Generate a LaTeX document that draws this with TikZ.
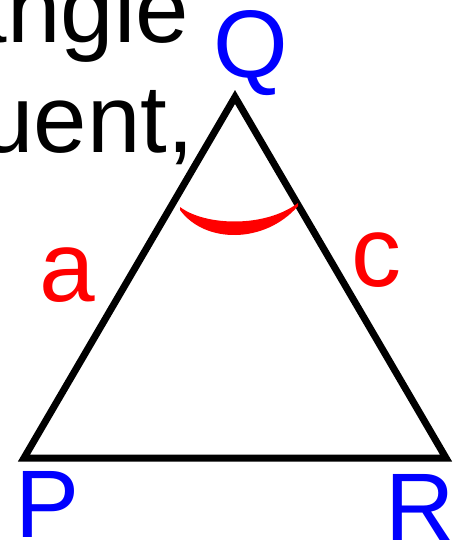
\documentclass[tikz,border=0pt]{standalone}
\usepackage{fontspec}
\setmainfont{Liberation Sans}
\usetikzlibrary{positioning}

\begin{document}
\begin{tikzpicture}[x=1pt, y=-1pt,
    vtx/.style={font=\fontsize{96}{110}\selectfont, text=blue, inner sep=0pt, anchor=base west},
    sidelbl/.style={font=\fontsize{100}{110}\selectfont, text=red, inner sep=0pt, anchor=base west},
    txt/.style={font=\fontsize{96}{110}\selectfont, inner sep=0pt, anchor=base east},
    sideline/.style={line width=7pt, line join=miter}
  ]
    \useasboundingbox (0,0) rectangle (462,545);
    \clip (0,0) rectangle (462,545);
    % text of the paragraph, cut off
    \node[txt] (t1) at (189,43) {angle};
    \node[txt] (t2) at (194,153) {uent,};
    % corners
    \coordinate (P) at (24,458);
    \coordinate (Q) at (235,97);
    \coordinate (R) at (446,458);
    \draw[sideline] (P) -- (Q) -- (R) -- cycle;
    % angle at Q
    \fill[red] (180,210) .. controls (205,244) and (265,244) .. (298,206)
      -- (298,203) .. controls (265,228) and (205,226) .. (180,207) -- cycle;
    % labels
    \node[vtx] (lQ) at (213,78) {Q};
    \node[vtx] (lP) at (15,537) {P};
    \node[vtx] (lR) at (385,540) {R};
    \node[sidelbl] (la) at (39,301) {a};
    \node[sidelbl] (lc) at (351,286) {c};
\end{tikzpicture}
\end{document}
